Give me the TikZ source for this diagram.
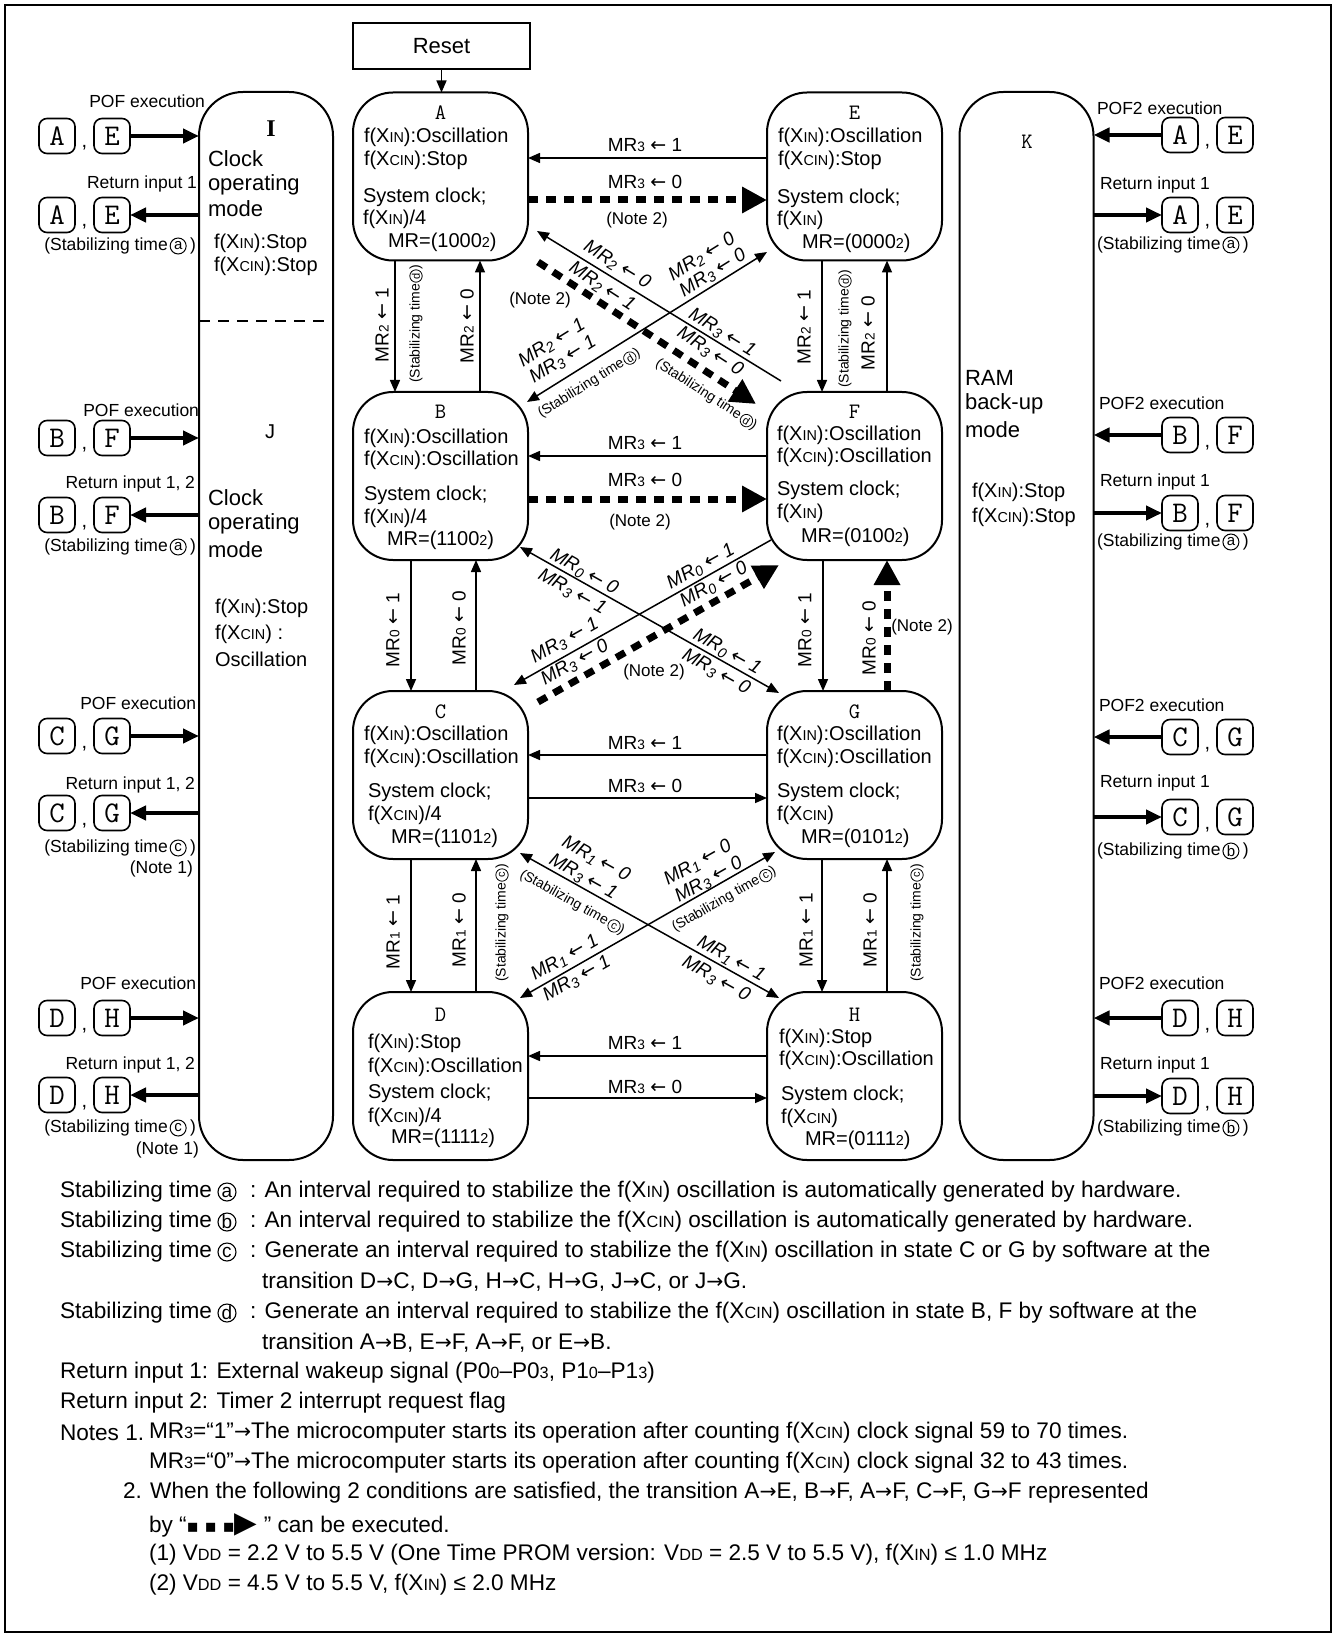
\documentclass[tikz,border=0pt]{standalone}
\usepackage{fontspec}
\setmainfont{Liberation Sans}
\newfontfamily\seriff{Liberation Serif}
\newfontfamily\djv{DejaVu Sans}
\usetikzlibrary{arrows.meta,calc}
\newcommand\fz[1]{\fontsize{#1}{#1}\selectfont}
\newcommand\sm[1]{\scalebox{0.72}{#1}}
\newcommand\sd[1]{\raisebox{-0.3ex}{\scalebox{0.75}{#1}}}
\newcommand\la{{\djv ←}}
\newcommand\ra{{\djv\scalebox{0.9}{→}}}
\newcommand\lrow[4]{%
  \node[lb] (#1a) at (57,#2) {#3};
  \node[commast] (#1c) at (84.5,{#2+12}) {,};
  \node[lb] (#1b) at (112,#2) {#4};}
\newcommand\rrow[4]{%
  \node[lb] (#1a) at (1180,#2) {#3};
  \node[commast] (#1c) at (1207.5,{#2+12}) {,};
  \node[lb] (#1b) at (1235,#2) {#4};}
% rotated small "(Stabilizing time (x))": name, x, y, angle, letter
\newcommand\rstab[5]{%
  \node[cirs, rotate=#4] (#1c) at ($(#2,#3)+({-1*(#4)}:47)$) {#5};
  \node[sst, rotate=#4, anchor=east] (#1t) at (#1c.west) {(Stabilizing time\kern0.12em};
  \node[sst, rotate=#4, anchor=west] (#1p) at (#1c.east) {)};}
% left side "(Stabilizing time (x) )": name, right x, y, letter
\newcommand\lstab[4]{%
  \node[sl, anchor=east] (#1p) at (#2,#3) {)};
  \node[cirm, anchor=east] (#1c) at ([xshift=-2pt]#1p.west) {#4};
  \node[sl, anchor=east] (#1t) at ([xshift=-1.2pt]#1c.west) {(Stabilizing time};}
% right side: name, left x, y, letter
\newcommand\rsstab[4]{%
  \node[sl, anchor=west] (#1t) at (#2,#3) {(Stabilizing time};
  \node[cirm, anchor=west] (#1c) at ([xshift=1.2pt]#1t.east) {#4};
  \node[sl, anchor=west] (#1p) at ([xshift=2pt]#1c.east) {)};}
% bottom: name, y, letter
\newcommand\bstab[3]{%
  \node[bt] (#1t) at (60,#2) {Stabilizing time};
  \node[cirb, anchor=west] (#1c) at ([xshift=3pt]#1t.east) {#3};}
\begin{document}
\begin{tikzpicture}[x=0.5pt,y=-0.5pt,
  every node/.style={inner sep=0pt, outer sep=0pt},
  state/.style={draw, line width=1pt, rounded corners=20pt, minimum width=87.5pt, minimum height=84pt},
  blk/.style={draw, line width=1pt, rounded corners=22pt, minimum width=67pt, minimum height=534pt},
  tx/.style={anchor=west, font=\fz{10}},
  sletter/.style={font=\ttfamily\fz{11}},
  ar/.style={line width=0.75pt, -{Triangle[length=6pt,width=5pt]}},
  bar/.style={line width=0.75pt, {Triangle[length=6pt,width=5pt]}-{Triangle[length=6pt,width=5pt]}},
  dar/.style={line width=3.5pt, dash pattern=on 5pt off 4pt, -{Triangle[length=12.5pt,width=12.5pt]}},
  sar/.style={line width=2pt, -{Triangle[length=8pt,width=7pt]}},
  lbl/.style={font=\fz{9.5}},
  dl/.style={font=\itshape\fz{9.5}},
  vl/.style={font=\fz{9.5}, rotate=90},
  sst/.style={font=\fz{7}},
  nt/.style={font=\fz{8.5}},
  sl/.style={font=\fz{8.75}},
  lb/.style={draw, line width=0.8pt, rounded corners=4pt, minimum width=18pt, minimum height=17.5pt, font=\ttfamily\fz{15}},
  commast/.style={anchor=base, font=\fz{10}},
  big/.style={anchor=west, font=\fz{11}},
  bt/.style={anchor=west, font=\fz{11.3}},
  cirs/.style={circle, draw, line width=0.4pt, inner sep=0pt, minimum size=6.2pt, font=\fz{5.5}},
  cirm/.style={circle, draw, line width=0.5pt, inner sep=0pt, minimum size=8pt, font=\fz{7.5}},
  cirb/.style={circle, draw, line width=0.55pt, inner sep=0pt, minimum size=9pt, font=\fz{9.5}},
]
\useasboundingbox (0,0) rectangle (1337,1636);
\draw[line width=1.2pt] (5,5) rectangle (1331,1632);

% ---------- Reset ----------
\node[draw, line width=1pt, minimum width=88.5pt, minimum height=23pt, font=\fz{11}] (Reset) at (441.5,46) {Reset};

% ---------- states ----------
\node[state] (A) at (440.5,176.5) {};
\node[state] (E) at (854.5,176.5) {};
\node[state] (B) at (440.5,476) {};
\node[state] (F) at (854.5,476) {};
\node[state] (C) at (440.5,775) {};
\node[state] (G) at (854.5,775) {};
\node[state] (D) at (440.5,1076) {};
\node[state] (H) at (854.5,1076) {};

\node[sletter] (A0) at (440.5,113) {A};
\node[tx] (A1) at (364,137) {f(X\sm{IN}):Oscillation};
\node[tx] (A2) at (364,160) {f(X\sm{CIN}):Stop};
\node[tx] (A3) at (363,197) {System clock;};
\node[tx] (A4) at (363,219) {f(X\sm{IN})/4};
\node[tx] (A5) at (388,242) {MR=(1000\sm{2})};

\node[sletter] (E0) at (854.5,113) {E};
\node[tx] (E1) at (778,137) {f(X\sm{IN}):Oscillation};
\node[tx] (E2) at (778,160) {f(X\sm{CIN}):Stop};
\node[tx] (E3) at (777,198) {System clock;};
\node[tx] (E4) at (777,220) {f(X\sm{IN})};
\node[tx] (E5) at (802,243) {MR=(0000\sm{2})};

\node[sletter] (B0) at (440.5,412) {B};
\node[tx] (B1) at (364,438) {f(X\sm{IN}):Oscillation};
\node[tx] (B2) at (364,460) {f(X\sm{CIN}):Oscillation};
\node[tx] (B3) at (364,495) {System clock;};
\node[tx] (B4) at (364,518) {f(X\sm{IN})/4};
\node[tx] (B5) at (387,540) {MR=(1100\sm{2})};

\node[sletter] (F0) at (854.5,412) {F};
\node[tx] (F1) at (777,435) {f(X\sm{IN}):Oscillation};
\node[tx] (F2) at (777,457) {f(X\sm{CIN}):Oscillation};
\node[tx] (F3) at (777,490) {System clock;};
\node[tx] (F4) at (777,513) {f(X\sm{IN})};
\node[tx] (F5) at (801,537) {MR=(0100\sm{2})};

\node[sletter] (C0) at (440.5,712) {C};
\node[tx] (C1) at (364,735) {f(X\sm{IN}):Oscillation};
\node[tx] (C2) at (364,758) {f(X\sm{CIN}):Oscillation};
\node[tx] (C3) at (368,792) {System clock;};
\node[tx] (C4) at (368,815) {f(X\sm{CIN})/4};
\node[tx] (C5) at (391,838) {MR=(1101\sm{2})};

\node[sletter] (G0) at (854.5,712) {G};
\node[tx] (G1) at (777,735) {f(X\sm{IN}):Oscillation};
\node[tx] (G2) at (777,758) {f(X\sm{CIN}):Oscillation};
\node[tx] (G3) at (777,792) {System clock;};
\node[tx] (G4) at (777,815) {f(X\sm{CIN})};
\node[tx] (G5) at (801,838) {MR=(0101\sm{2})};

\node[sletter] (D0) at (440.5,1015) {D};
\node[tx] (D1) at (368,1043) {f(X\sm{IN}):Stop};
\node[tx] (D2) at (368,1067) {f(X\sm{CIN}):Oscillation};
\node[tx] (D3) at (368,1093) {System clock;};
\node[tx] (D4) at (368,1117) {f(X\sm{CIN})/4};
\node[tx] (D5) at (391,1138) {MR=(1111\sm{2})};

\node[sletter] (H0) at (854.5,1015) {H};
\node[tx] (H1) at (779,1038) {f(X\sm{IN}):Stop};
\node[tx] (H2) at (779,1060) {f(X\sm{CIN}):Oscillation};
\node[tx] (H3) at (781,1095) {System clock;};
\node[tx] (H4) at (781,1118) {f(X\sm{CIN})};
\node[tx] (H5) at (805,1140) {MR=(0111\sm{2})};

% ---------- I/J and K blocks ----------
\node[blk] (IJ) at (266,626) {};
\node[blk] (K) at (1026.5,626) {};
\draw[line width=0.8pt, dash pattern=on 5.5pt off 4pt] (IJ.west |- 0,321) -- (IJ.east |- 0,321);

\node[font=\seriff\bfseries\fz{12}] (Il) at (271,129) {I};
\node[big] (I1) at (208,159) {Clock};
\node[big] (I2) at (208,185) {operating};
\node[big] (I3) at (208,209) {mode};
\node[tx] (I4) at (214,243) {f(X\sm{IN}):Stop};
\node[tx] (I5) at (214,266) {f(X\sm{CIN}):Stop};

\node[font=\fz{10}] (Jl) at (270,432) {J};
\node[big] (J1) at (208,498) {Clock};
\node[big] (J2) at (208,524) {operating};
\node[big] (J3) at (208,550) {mode};
\node[tx] (J4) at (215,608) {f(X\sm{IN}):Stop};
\node[tx] (J5) at (215,634) {f(X\sm{CIN}) :};
\node[tx] (J6) at (215,659) {Oscillation};

\node[font=\ttfamily\fz{11}] (Kl) at (1027,142) {K};
\node[big] (K1) at (965,378) {RAM};
\node[big] (K2) at (965,404) {back-up};
\node[big] (K3) at (965,430) {mode};
\node[tx] (K4) at (972,492) {f(X\sm{IN}):Stop};
\node[tx] (K5) at (972,517) {f(X\sm{CIN}):Stop};

% ---------- left side ----------
\node[sl, anchor=east] (lp1) at (205,101) {POF execution};
\lrow{L1}{136}{A}{E}
\draw[sar] (L1b.east) -- (L1b.east -| IJ.west);
\node[sl, anchor=east] (lr1) at (197,184) {Return input 1};
\lrow{L2}{215}{A}{E}
\draw[sar] (L2b.east -| IJ.west) -- (L2b.east);
\lstab{ls1}{196}{246}{a}

\node[sl, anchor=east] (lp2) at (199,410) {POF execution};
\lrow{L3}{438}{B}{F}
\draw[sar] (L3b.east) -- (L3b.east -| IJ.west);
\node[sl, anchor=east] (lr2) at (195,484) {Return input 1, 2};
\lrow{L4}{515}{B}{F}
\draw[sar] (L4b.east -| IJ.west) -- (L4b.east);
\lstab{ls2}{196}{547}{a}

\node[sl, anchor=east] (lp3) at (196,703) {POF execution};
\lrow{L5}{736}{C}{G}
\draw[sar] (L5b.east) -- (L5b.east -| IJ.west);
\node[sl, anchor=east] (lr3) at (195,785) {Return input 1, 2};
\lrow{L6}{813}{C}{G}
\draw[sar] (L6b.east -| IJ.west) -- (L6b.east);
\lstab{ls3}{196}{848}{c}
\node[sl, anchor=east] (ln3) at (193,869) {(Note 1)};

\node[sl, anchor=east] (lp4) at (196,983) {POF execution};
\lrow{L7}{1018}{D}{H}
\draw[sar] (L7b.east) -- (L7b.east -| IJ.west);
\node[sl, anchor=east] (lr4) at (195,1065) {Return input 1, 2};
\lrow{L8}{1095}{D}{H}
\draw[sar] (L8b.east -| IJ.west) -- (L8b.east);
\lstab{ls4}{196}{1128}{c}
\node[sl, anchor=east] (ln4) at (199,1150) {(Note 1)};

% ---------- right side ----------
\node[sl, anchor=west] (rp1) at (1097,108) {POF2 execution};
\rrow{R1}{135}{A}{E}
\draw[sar] (R1a.west) -- (R1a.west -| K.east);
\node[sl, anchor=west] (rr1) at (1100,185) {Return input 1};
\rrow{R2}{215}{A}{E}
\draw[sar] (R2a.west -| K.east) -- (R2a.west);
\rsstab{rs1}{1097}{245}{a}

\node[sl, anchor=west] (rp2) at (1099,403) {POF2 execution};
\rrow{R3}{435}{B}{F}
\draw[sar] (R3a.west) -- (R3a.west -| K.east);
\node[sl, anchor=west] (rr2) at (1100,482) {Return input 1};
\rrow{R4}{513}{B}{F}
\draw[sar] (R4a.west -| K.east) -- (R4a.west);
\rsstab{rs2}{1097}{542}{a}

\node[sl, anchor=west] (rp3) at (1099,705) {POF2 execution};
\rrow{R5}{737}{C}{G}
\draw[sar] (R5a.west) -- (R5a.west -| K.east);
\node[sl, anchor=west] (rr3) at (1100,783) {Return input 1};
\rrow{R6}{817}{C}{G}
\draw[sar] (R6a.west -| K.east) -- (R6a.west);
\rsstab{rs3}{1097}{851}{b}

\node[sl, anchor=west] (rp4) at (1099,983) {POF2 execution};
\rrow{R7}{1018}{D}{H}
\draw[sar] (R7a.west) -- (R7a.west -| K.east);
\node[sl, anchor=west] (rr4) at (1100,1065) {Return input 1};
\rrow{R8}{1096}{D}{H}
\draw[sar] (R8a.west -| K.east) -- (R8a.west);
\rsstab{rs4}{1097}{1128}{b}

% ---------- reset arrow ----------
\draw[ar] (Reset.south) -- (Reset.south |- A.north);

% ---------- horizontal arrows ----------
\draw[ar] (E.west |- 0,158) -- (A.east |- 0,158);
\draw[dar] (A.east |- 0,200) -- (E.west |- 0,200);
\node[lbl] (hAE1) at (645,145) {MR\sm{3} \la\ 1};
\node[lbl] (hAE2) at (645,182) {MR\sm{3} \la\ 0};
\node[nt] (hAE3) at (637,220) {(Note 2)};

\draw[ar] (F.west |- 0,456) -- (B.east |- 0,456);
\draw[dar] (B.east |- 0,499) -- (F.west |- 0,499);
\node[lbl] (hBF1) at (645,443) {MR\sm{3} \la\ 1};
\node[lbl] (hBF2) at (645,480) {MR\sm{3} \la\ 0};
\node[nt] (hBF3) at (640,522) {(Note 2)};

\draw[ar] (G.west |- 0,755) -- (C.east |- 0,755);
\draw[ar] (C.east |- 0,798) -- (G.west |- 0,798);
\node[lbl] (hCG1) at (645,743) {MR\sm{3} \la\ 1};
\node[lbl] (hCG2) at (645,786) {MR\sm{3} \la\ 0};

\draw[ar] (H.west |- 0,1056) -- (D.east |- 0,1056);
\draw[ar] (D.east |- 0,1098) -- (H.west |- 0,1098);
\node[lbl] (hDH1) at (645,1043) {MR\sm{3} \la\ 1};
\node[lbl] (hDH2) at (645,1087) {MR\sm{3} \la\ 0};

% ---------- vertical arrows ----------
\draw[ar] (A.south -| 395,0) -- (B.north -| 395,0);
\draw[ar] (B.north -| 480,0) -- (A.south -| 480,0);
\node[vl] (vAB1) at (382,325) {MR\sm{2} \la\ 1};
\rstab{vAB2}{416}{323}{90}{d}
\node[vl] (vAB3) at (467,326) {MR\sm{2} \la\ 0};

\draw[ar] (E.south -| 822,0) -- (F.north -| 822,0);
\draw[ar] (F.north -| 887,0) -- (E.south -| 887,0);
\node[vl] (vEF1) at (804,327) {MR\sm{2} \la\ 1};
\rstab{vEF2}{845}{328}{90}{d}
\node[vl] (vEF3) at (868,333) {MR\sm{2} \la\ 0};

\draw[ar] (B.south -| 411,0) -- (C.north -| 411,0);
\draw[ar] (C.north -| 476,0) -- (B.south -| 476,0);
\node[vl] (vBC1) at (393,630) {MR\sm{0} \la\ 1};
\node[vl] (vBC2) at (459,628) {MR\sm{0} \la\ 0};

\draw[ar] (F.south -| 823,0) -- (G.north -| 823,0);
\draw[dar] (G.north -| 887,0) -- (F.south -| 887,0);
\node[vl] (vFG1) at (805,630) {MR\sm{0} \la\ 1};
\node[vl] (vFG2) at (869,638) {MR\sm{0} \la\ 0};
\node[nt] (vFG3) at (922,627) {(Note 2)};

\draw[ar] (C.south -| 411,0) -- (D.north -| 411,0);
\draw[ar] (D.north -| 476,0) -- (C.south -| 476,0);
\node[vl] (vCD1) at (393,932) {MR\sm{1} \la\ 1};
\node[vl] (vCD2) at (459,930) {MR\sm{1} \la\ 0};
\rstab{vCD3}{502}{922}{90}{c}

\draw[ar] (G.south -| 822,0) -- (H.north -| 822,0);
\draw[ar] (H.north -| 887,0) -- (G.south -| 887,0);
\node[vl] (vGH1) at (806,930) {MR\sm{1} \la\ 1};
\node[vl] (vGH2) at (870,930) {MR\sm{1} \la\ 0};
\rstab{vGH3}{917}{922}{90}{c}

% ---------- diagonals: top ----------
\draw[ar] ([shift={(14,-11)}]F.north west) -- ([shift={(9,-29.5)}]A.south east);
\draw[dar] ([shift={(10,1.5)}]A.south east) -- ([shift={(-11,12)}]F.north west);
\draw[bar] ([shift={(-1,10)}]B.north east) -- ([shift={(0,-8.5)}]E.south west);
\node[dl, rotate=-31.6] (dFA1) at (617,265) {MR\sd{2} \la\ 0};
\node[dl, rotate=-31.6] (dFA2) at (722,333) {MR\sd{3} \la\ 1};
\node[dl, rotate=-33] (dAF1) at (602,287) {MR\sd{2} \la\ 1};
\node[dl, rotate=-33] (dAF2) at (710,352) {MR\sd{3} \la\ 0};
\rstab{dAF3}{707}{395}{-33}{d}
\node[nt] (dAF4) at (540,300) {(Note 2)};
\node[dl, rotate=32] (dBE1) at (702,257) {MR\sd{2} \la\ 0};
\node[dl, rotate=32] (dBE2) at (713,273) {MR\sd{3} \la\ 0};
\node[dl, rotate=32] (dEB1) at (552,343) {MR\sd{2} \la\ 1};
\node[dl, rotate=32] (dEB2) at (563,360) {MR\sd{3} \la\ 1};
\rstab{dEB3}{590}{383}{32}{d}

% ---------- diagonals: middle ----------
\draw[bar] ([shift={(-8,-13)}]B.south east) -- ([shift={(12,2)}]G.north west);
\draw[ar] ([shift={(4,-20)}]F.south west) -- ([shift={(-14,-6)}]C.north east);
\draw[dar] ([shift={(10,11)}]C.north east) -- ([shift={(12,5)}]F.south west);
\node[dl, rotate=-29.4] (dGB1) at (584,572) {MR\sd{0} \la\ 0};
\node[dl, rotate=-29.4] (dGB2) at (572,592) {MR\sd{3} \la\ 1};
\node[dl, rotate=-29.4] (dBG1) at (727,652) {MR\sd{0} \la\ 1};
\node[dl, rotate=-29.4] (dBG2) at (716,672) {MR\sd{3} \la\ 0};
\node[dl, rotate=29.4] (dFC1) at (701,567) {MR\sd{0} \la\ 1};
\node[dl, rotate=29.4] (dFC2) at (565,641) {MR\sd{3} \la\ 1};
\node[dl, rotate=29.6] (dCF1) at (714,585) {MR\sd{0} \la\ 0};
\node[dl, rotate=29.6] (dCF2) at (575,663) {MR\sd{3} \la\ 0};
\node[nt] (dCF3) at (654,672) {(Note 2)};

% ---------- diagonals: bottom ----------
\draw[bar] ([shift={(-8,-6)}]C.south east) -- ([shift={(12,6)}]H.north west);
\draw[bar] ([shift={(-8,6)}]D.north east) -- ([shift={(8,-7)}]G.south west);
\node[dl, rotate=-29.2] (dHC1) at (596,859) {MR\sd{1} \la\ 0};
\node[dl, rotate=-29.2] (dHC2) at (583,877) {MR\sd{3} \la\ 1};
\rstab{dHC3}{573}{903}{-29.2}{c}
\node[dl, rotate=-29.2] (dCH1) at (731,959) {MR\sd{1} \la\ 1};
\node[dl, rotate=-29.2] (dCH2) at (716,979) {MR\sd{3} \la\ 0};
\node[dl, rotate=29.8] (dDG1) at (698,863) {MR\sd{1} \la\ 0};
\node[dl, rotate=29.8] (dDG2) at (709,880) {MR\sd{3} \la\ 0};
\rstab{dDG3}{725}{899}{29.8}{c}
\node[dl, rotate=29.8] (dGD1) at (565,958) {MR\sd{1} \la\ 1};
\node[dl, rotate=29.8] (dGD2) at (577,979) {MR\sd{3} \la\ 1};

% ---------- bottom notes ----------
\bstab{n1a}{1192}{a}
\node[bt] (n1b) at (250,1192) {: An interval required to stabilize the f(X\sm{IN}) oscillation is automatically generated by hardware.};
\bstab{n2a}{1222}{b}
\node[bt] (n2b) at (250,1222) {: An interval required to stabilize the f(X\sm{CIN}) oscillation is automatically generated by hardware.};
\bstab{n3a}{1252}{c}
\node[bt] (n3b) at (250,1252) {: Generate an interval required to stabilize the f(X\sm{IN}) oscillation in state C or G by software at the};
\node[bt] (n4) at (262,1282) {transition D\ra C, D\ra G, H\ra C, H\ra G, J\ra C, or J\ra G.};
\bstab{n5a}{1313}{d}
\node[bt] (n5b) at (250,1313) {: Generate an interval required to stabilize the f(X\sm{CIN}) oscillation in state B, F by software at the};
\node[bt] (n6) at (262,1343) {transition A\ra B, E\ra F, A\ra F, or E\ra B.};
\node[bt] (n7) at (60,1373) {Return input 1: External wakeup signal (P0\sm{0}–P0\sm{3}, P1\sm{0}–P1\sm{3})};
\node[bt] (n8) at (60,1403) {Return input 2: Timer 2 interrupt request flag};
\node[bt] (n9a) at (60,1433) {Notes 1.};
\node[bt] (n9b) at (149,1433) {MR\sm{3}=“1”\ra The microcomputer starts its operation after counting f(X\sm{CIN}) clock signal 59 to 70 times.};
\node[bt] (n10) at (149,1463) {MR\sm{3}=“0”\ra The microcomputer starts its operation after counting f(X\sm{CIN}) clock signal 32 to 43 times.};
\node[bt] (n11) at (123,1493) {2. When the following 2 conditions are satisfied, the transition A\ra E, B\ra F, A\ra F, C\ra F, G\ra F represented};
\node[bt] (n12) at (149,1525) {by “{\djv\scalebox{0.8}{▪ ▪ ▪}\scalebox{1.3}{▶}} ” can be executed.};
\node[bt] (n13) at (149,1555) {(1) V\sm{DD} = 2.2 V to 5.5 V (One Time PROM version: V\sm{DD} = 2.5 V to 5.5 V), f(X\sm{IN}) ≤ 1.0 MHz};
\node[bt] (n14) at (149,1585) {(2) V\sm{DD} = 4.5 V to 5.5 V, f(X\sm{IN}) ≤ 2.0 MHz};
\end{tikzpicture}
\end{document}
